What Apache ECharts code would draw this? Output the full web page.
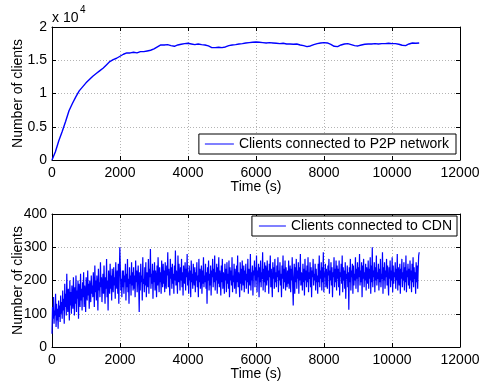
<!DOCTYPE html>
<html><head><meta charset="utf-8">
<script src="https://cdn.jsdelivr.net/npm/echarts@6/dist/echarts.min.js"></script>
<style>html,body{margin:0;padding:0;background:#fff}#c{width:479px;height:383px}</style>
</head><body><div id="c"></div>
<script>
// ---- data ----
const xTicks = [0, 2000, 4000, 6000, 8000, 10000, 12000];
const p2pYTicks = ['0', '0.5', '1', '1.5', '2'];
const cdnYTicks = [0, 100, 200, 300, 400];
const p2pStep = 100; // seconds between P2P samples
const p2pClients = [
  0,1250,2900,4300,5800,7400,8500,9500,10400,11000,
  11600,12100,12600,13000,13400,13800,14300,14800,15100,15300,
  15600,15900,16100,16100,16200,16100,16300,16300,16400,16500,
  16700,17000,17300,17300,17350,17200,17100,17300,17400,17500,
  17550,17450,17350,17450,17350,17300,17150,16900,16900,16950,
  16900,17000,17200,17300,17350,17450,17500,17600,17650,17700,
  17750,17700,17650,17600,17650,17600,17550,17500,17550,17450,
  17450,17400,17450,17300,17200,17050,17150,17350,17500,17600,
  17650,17600,17400,17100,17050,17300,17450,17500,17350,17200,
  17150,17300,17400,17450,17450,17500,17450,17500,17500,17550,
  17500,17500,17400,17250,17200,17450,17600,17550,17600
];
const cdnStep = 15; // seconds between CDN samples
const cdnClients = [
  40,120,85,150,70,110,95,160,60,130,80,115,55,140,90,125,75,155,100,135,
  85,170,110,145,70,190,120,160,95,220,130,105,175,140,80,200,125,165,100,185,
  140,115,210,150,95,180,130,215,105,170,145,200,85,190,160,120,220,140,175,110,
  195,150,225,120,185,165,105,210,170,140,230,155,190,115,200,175,135,215,160,185,
  150,225,180,120,245,165,200,140,215,185,110,235,170,195,150,255,180,210,135,190,
  220,160,245,185,130,210,175,265,150,200,110,230,190,160,250,175,215,140,235,195,
  165,240,185,210,145,255,195,175,230,160,250,130,215,300,240,170,205,150,230,180,
  230,160,215,195,250,140,220,180,265,165,205,130,240,190,215,155,255,185,225,170,
  240,175,215,150,260,195,230,165,210,245,185,105,225,170,250,195,215,140,270,190,
  205,165,240,185,255,150,225,200,180,265,160,235,210,295,175,220,190,250,145,230,
  195,255,170,230,205,150,245,185,270,210,165,240,195,225,160,260,215,180,250,190,
  230,165,255,200,175,245,215,285,180,235,195,155,265,205,240,175,250,190,220,160,
  245,200,290,185,230,210,160,275,195,250,215,170,240,200,265,180,225,155,245,210,
  190,255,170,235,210,280,185,225,160,245,200,230,150,260,195,220,175,250,205,185,
  240,165,225,200,255,180,215,150,265,195,235,175,210,245,160,230,190,270,180,215,
  195,250,175,225,130,240,200,260,170,220,185,245,155,230,210,265,180,235,195,275,
  170,225,200,250,160,240,190,270,180,230,205,155,245,195,265,175,225,210,160,250,
  200,235,165,255,190,220,175,260,150,240,200,230,185,270,165,215,195,250,175,235,
  210,160,245,195,275,180,225,200,150,255,190,235,170,260,205,185,245,165,230,200,
  250,175,220,195,265,160,235,210,185,280,170,225,200,245,155,230,215,260,180,240,
  200,275,165,230,210,250,150,240,195,260,180,225,205,285,170,235,195,255,165,245,
  215,185,260,200,230,160,250,210,275,180,235,195,150,255,205,240,175,265,195,225,
  180,245,210,270,165,230,200,255,185,220,150,245,205,275,175,235,195,260,170,240,
  205,180,230,190,260,175,215,245,165,235,200,270,180,125,210,250,160,240,195,265,
  175,230,205,255,160,240,200,280,185,225,210,170,250,195,235,155,265,200,230,180,
  245,195,270,165,225,205,255,180,240,150,230,210,265,185,220,200,250,170,235,195,
  215,160,250,195,275,180,230,205,255,170,240,195,285,165,225,210,250,180,235,200,
  175,245,215,265,160,230,200,255,185,240,150,225,210,270,180,235,195,260,170,245,
  205,235,180,260,155,225,210,250,190,275,165,240,200,230,175,255,145,220,205,245,
  180,225,112,240,195,265,170,230,210,250,160,245,185,220,200,270,175,235,205,255,
  165,240,210,280,185,230,195,255,150,245,205,265,180,225,200,250,170,240,215,190,
  260,175,235,205,270,160,245,195,300,180,230,210,255,165,240,200,275,185,225,205,
  250,170,235,195,265,180,220,205,285,160,240,200,255,175,230,210,265,185,245,195,
  155,240,205,260,180,230,200,270,165,245,190,225,210,255,175,235,200,280,170,240,
  210,185,250,160,235,205,265,180,225,200,255,170,240,195,275,165,230,210,250,185,
  235,175,260,200,230,165,250,195,270,180,240,205,225,160,255,195,245,175,235,275,
  285
];
const p2pName = 'Clients connected to P2P network';
const cdnName = 'Clients connected to CDN';

// ---- chart ----
const FONT = '"Liberation Sans", Arial, Helvetica, sans-serif';
const BLUE = '#0000ff';
const txt = {color: '#000', fontSize: 14, fontFamily: FONT};
const grids = [
  {left: 52, top: 27, width: 408, height: 133, containLabel: false, outerBoundsMode: 'none'},
  {left: 52, top: 214, width: 408, height: 133, containLabel: false, outerBoundsMode: 'none'}
];
function frameAxis(g, pos, min, max, interval) {
  return {gridIndex: g, type: 'value', position: pos, min, max, interval,
    axisLine: {show: true, onZero: false, lineStyle: {color: '#000', width: 1}},
    axisTick: {show: true, inside: true, length: 4, lineStyle: {color: '#000'}},
    axisLabel: {show: false}, splitLine: {show: false}};
}
function mainX(g) {
  return {gridIndex: g, type: 'value', position: 'bottom', min: xTicks[0], max: xTicks[xTicks.length-1],
    interval: xTicks[1] - xTicks[0],
    axisLine: {show: true, onZero: false, lineStyle: {color: '#000', width: 1}},
    axisTick: {show: true, inside: true, length: 4, lineStyle: {color: '#000'}},
    axisLabel: Object.assign({margin: 6, formatter: v => String(v)}, txt),
    splitLine: {show: true, lineStyle: {color: '#b4b4b4', type: [1, 2], width: 1}},
    name: 'Time (s)', nameLocation: 'middle', nameGap: 20, nameMoveOverlap: false, nameTextStyle: txt};
}
function mainY(g, min, max, interval, fmt) {
  return {gridIndex: g, type: 'value', position: 'left', min, max, interval,
    axisLine: {show: true, onZero: false, lineStyle: {color: '#000', width: 1}},
    axisTick: {show: true, inside: true, length: 4, lineStyle: {color: '#000'}},
    axisLabel: Object.assign({margin: 5, formatter: fmt}, txt),
    splitLine: {show: true, lineStyle: {color: '#b4b4b4', type: [1, 2], width: 1}},
    name: 'Number of clients', nameLocation: 'middle', nameGap: 27, nameMoveOverlap: false, nameTextStyle: txt};
}
const p2pData = p2pClients.map((v, i) => [i * p2pStep, v]);
const cdnData = cdnClients.map((v, i) => [i * cdnStep, v]);
const p2pMax = 20000, p2pInt = 5000;

const chart = echarts.init(document.getElementById('c'), null, {renderer: 'canvas'});
chart.setOption({
  animation: false,
  backgroundColor: '#fff',
  grid: grids,
  xAxis: [mainX(0), frameAxis(0, 'top', 0, 12000, 2000), mainX(1), frameAxis(1, 'top', 0, 12000, 2000)],
  yAxis: [
    mainY(0, 0, p2pMax, p2pInt, v => p2pYTicks[Math.round(v / p2pInt)]),
    frameAxis(0, 'right', 0, p2pMax, p2pInt),
    mainY(1, cdnYTicks[0], cdnYTicks[cdnYTicks.length-1], cdnYTicks[1]-cdnYTicks[0], v => String(v)),
    frameAxis(1, 'right', 0, 400, 100)
  ],
  legend: [
    {data: [p2pName], right: 23, top: 134, orient: 'vertical', padding: [3, 7, 3, 6],
     borderColor: '#000', borderWidth: 1, backgroundColor: '#fff', borderRadius: 0,
     icon: 'rect', itemWidth: 29, itemHeight: 1, textStyle: txt, selectedMode: false},
    {data: [cdnName], right: 22, top: 216, orient: 'vertical', padding: [3, 5, 3, 7],
     borderColor: '#000', borderWidth: 1, backgroundColor: '#fff', borderRadius: 0,
     icon: 'rect', itemWidth: 27, itemHeight: 1, textStyle: txt, selectedMode: false}
  ],
  graphic: [
    {type: 'text', left: 52, top: 11, style: {text: 'x 10', font: '14px ' + FONT, fill: '#000'}},
    {type: 'text', left: 80, top: 5, style: {text: '4', font: '10px ' + FONT, fill: '#000'}}
  ],
  series: [
    {type: 'line', name: p2pName, xAxisIndex: 0, yAxisIndex: 0, data: p2pData, symbol: 'none',
     lineStyle: {color: BLUE, width: 1.4}, itemStyle: {color: BLUE}, z: 3},
    {type: 'line', name: cdnName, xAxisIndex: 2, yAxisIndex: 2, data: cdnData, symbol: 'none',
     lineStyle: {color: BLUE, width: 1.2}, itemStyle: {color: BLUE}, z: 3}
  ]
});
</script></body></html>
